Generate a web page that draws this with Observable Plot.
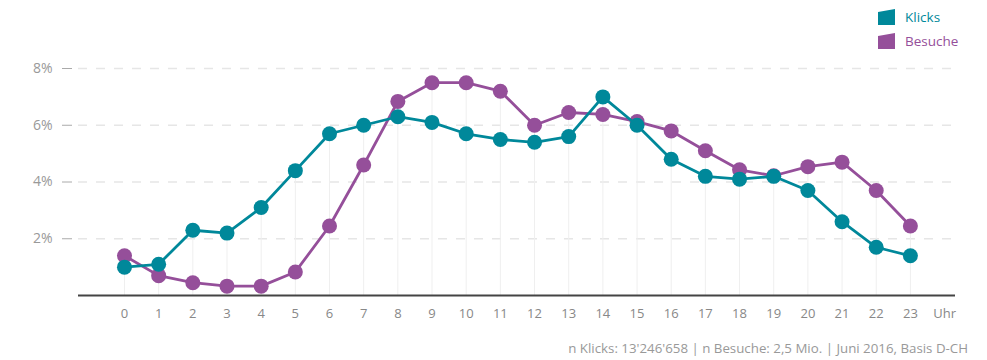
<!DOCTYPE html>
<html>
<head>
<meta charset="utf-8">
<script src="https://cdn.jsdelivr.net/npm/d3@7"></script>
<script src="https://cdn.jsdelivr.net/npm/@observablehq/plot@0.6"></script>
<style>
  body { margin: 0; background: #fff; font-family: "Open Sans", sans-serif; }
  #wrap { position: relative; width: 987px; height: 360px; }
  #legend { position: absolute; left: 878px; top: 5px; font-size: 13.5px; line-height: 24px; }
  #legend div { display: flex; align-items: center; height: 24px; }
  #legend svg { margin-right: 10px; }
  #caption { position: absolute; right: 19px; top: 339px; font-size: 13.3px; color: #999; white-space: nowrap; }
</style>
</head>
<body>
<div id="wrap">
  <div id="chart"></div>
  <div id="legend"></div>
  <div id="caption">n Klicks: 13'246'658 | n Besuche: 2,5 Mio. | Juni 2016, Basis D-CH</div>
</div>
<script>
const hours = [0,1,2,3,4,5,6,7,8,9,10,11,12,13,14,15,16,17,18,19,20,21,22,23];
const klicks = [1.0,1.1,2.3,2.2,3.1,4.4,5.7,6.0,6.3,6.1,5.7,5.5,5.4,5.6,7.0,6.0,4.8,4.2,4.1,4.2,3.7,2.6,1.7,1.4];
const besuche = [1.4,0.7,0.45,0.33,0.33,0.83,2.45,4.6,6.84,7.5,7.5,7.2,6.0,6.45,6.38,6.13,5.8,5.1,4.43,4.22,4.54,4.7,3.7,2.45];
const yTicks = [2,4,6,8];
const xTickLabels = [...hours.map(String), "Uhr"];
const seriesNames = ["Klicks", "Besuche"];
const colors = ["#00889a", "#954f9a"];

const rowsK = hours.map((h,i) => ({h, v: klicks[i]}));
const rowsB = hours.map((h,i) => ({h, v: besuche[i]}));
const rowsMax = hours.map((h,i) => ({h, v: Math.max(klicks[i], besuche[i])}));

const chart = Plot.plot({
  width: 987,
  height: 330,
  marginLeft: 78,
  marginRight: 32,
  marginTop: 68,
  marginBottom: 35,
  style: {fontFamily: '"Open Sans", sans-serif', fontSize: "13px", color: "#999"},
  x: {domain: [-1.346, 24.32]},
  y: {domain: [0, 8]},
  marks: [
    Plot.ruleY(yTicks, {stroke: "#e6e6e6", strokeWidth: 1.5, strokeDasharray: "9,9"}),
    Plot.ruleX(rowsMax, {x: "h", y1: 0, y2: "v", stroke: "#efefef", strokeWidth: 1}),
    Plot.axisY({ticks: yTicks, tickFormat: d => d + "%", tickSize: 10, tickPadding: 10, dx: -6, stroke: "#aaa", color: "#999", fontSize: 14, label: null}),
    Plot.axisX({ticks: [...hours, 24], tickFormat: (d,i) => xTickLabels[i], tickSize: 0, tickPadding: 13, color: "#888", label: null}),
    Plot.ruleY([0], {stroke: "#444", strokeWidth: 2}),
    Plot.line(rowsB, {x: "h", y: "v", stroke: colors[1], strokeWidth: 2.8}),
    Plot.dot(rowsB, {x: "h", y: "v", r: 7.5, fill: colors[1]}),
    Plot.line(rowsK, {x: "h", y: "v", stroke: colors[0], strokeWidth: 2.8}),
    Plot.dot(rowsK, {x: "h", y: "v", r: 7.5, fill: colors[0]})
  ]
});
document.getElementById("chart").appendChild(chart);

const legend = document.getElementById("legend");
seriesNames.forEach((name, i) => {
  const row = document.createElement("div");
  row.innerHTML = `<svg width="17" height="16"><polygon points="0,3 17,0 17,16 0,16" fill="${colors[i]}"/></svg><span style="color:${colors[i]}">${name}</span>`;
  legend.appendChild(row);
});
</script>
</body>
</html>
